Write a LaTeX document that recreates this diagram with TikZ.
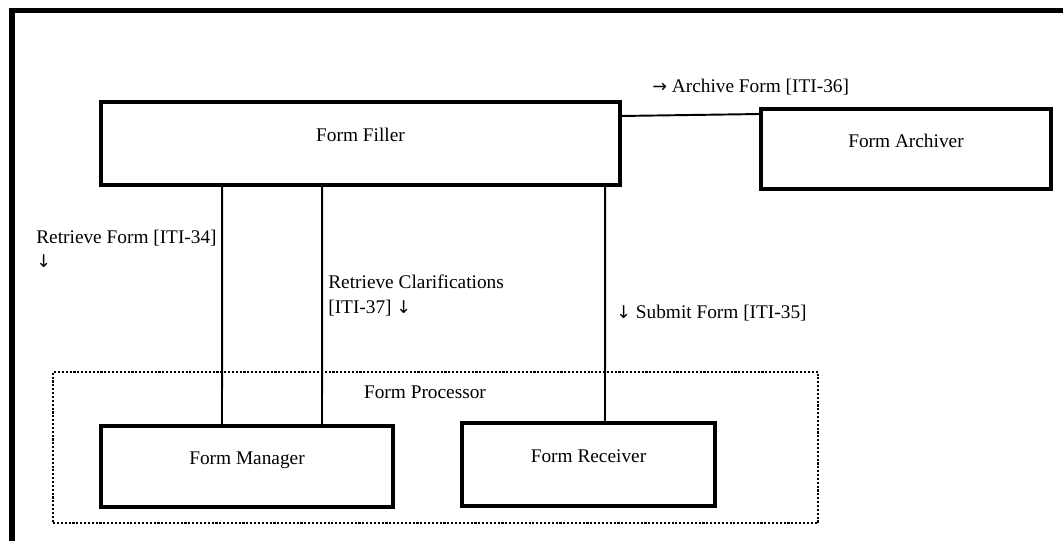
\documentclass[tikz,border=0pt]{standalone}
\usepackage{fontspec}
\setmainfont{Liberation Serif}
\newfontfamily\arrowfont{DejaVu Sans}
\newcommand{\rarr}{{\arrowfont\fontsize{10}{14}\selectfont →}}
\newcommand{\darr}{{\arrowfont\fontsize{10}{14}\selectfont ↓}}
\usepackage{tikz}
\usetikzlibrary{calc}
\tikzset{compbox/.style={draw, line width=1.8pt, inner sep=0pt, outer sep=0pt, text height=8pt, text depth=10pt}}
\tikzset{groupbox/.style={draw, line width=1.2pt, densely dotted, inner sep=0pt, outer sep=0pt}}
\tikzset{link/.style={line width=1.1pt}}
\tikzset{txt/.style={inner sep=0pt, align=left}}

\begin{document}
\begin{tikzpicture} [x=0.02cm, y=-0.02cm, font=\fontsize{11}{14}\selectfont]
\useasboundingbox (0,0) rectangle (1063,541);
\begin{scope}
\clip (0,0) rectangle (1063,541);
\draw[line width=3pt] (12,10.5) rectangle (1080,560);
\end{scope}
\node[groupbox, minimum width=15.3cm, minimum height=3.02cm] (processor) at (435.5,447.5) {};
\node[txt, anchor=base] (proclabel) at (425,398) {Form Processor};
\node[compbox, minimum width=10.38cm, minimum height=1.66cm] (filler) at (360.5,143.5) {Form Filler};
\node[compbox, minimum width=5.8cm, minimum height=1.6cm] (archiver) at (906,149) {Form Archiver};
\node[compbox, minimum width=5.84cm, minimum height=1.62cm] (manager) at (247,466.5) {Form Manager};
\node[compbox, minimum width=5.06cm, minimum height=1.66cm] (receiver) at (588.5,464.5) {Form Receiver};
\draw[link] ($(filler.east)+(0,-27.5)$) -- ($(archiver.west)+(0,-35)$);
\draw[link] ($(filler.south west)+(121,0)$) -- ($(manager.north west)+(121,0)$);
\draw[link] ($(filler.south west)+(221,0)$) -- ($(manager.north west)+(221,0)$);
\draw[link] ($(filler.south west)+(504,0)$) -- ($(receiver.north west)+(143,0)$);
\node[txt, anchor=base west] (archlabel) at (652,92) {\rarr\ Archive Form [ITI-36]};
\node[txt, anchor=north west] (rflabel) at (36,229.5) {Retrieve Form [ITI-34]\\\darr};
\node[txt, anchor=north west] (rclabel) at (328,274.5) {Retrieve Clarifications\\{}[ITI-37] \darr};
\node[txt, anchor=base west] (sflabel) at (616,318) {\darr\ Submit Form [ITI-35]};
\end{tikzpicture}
\end{document}
